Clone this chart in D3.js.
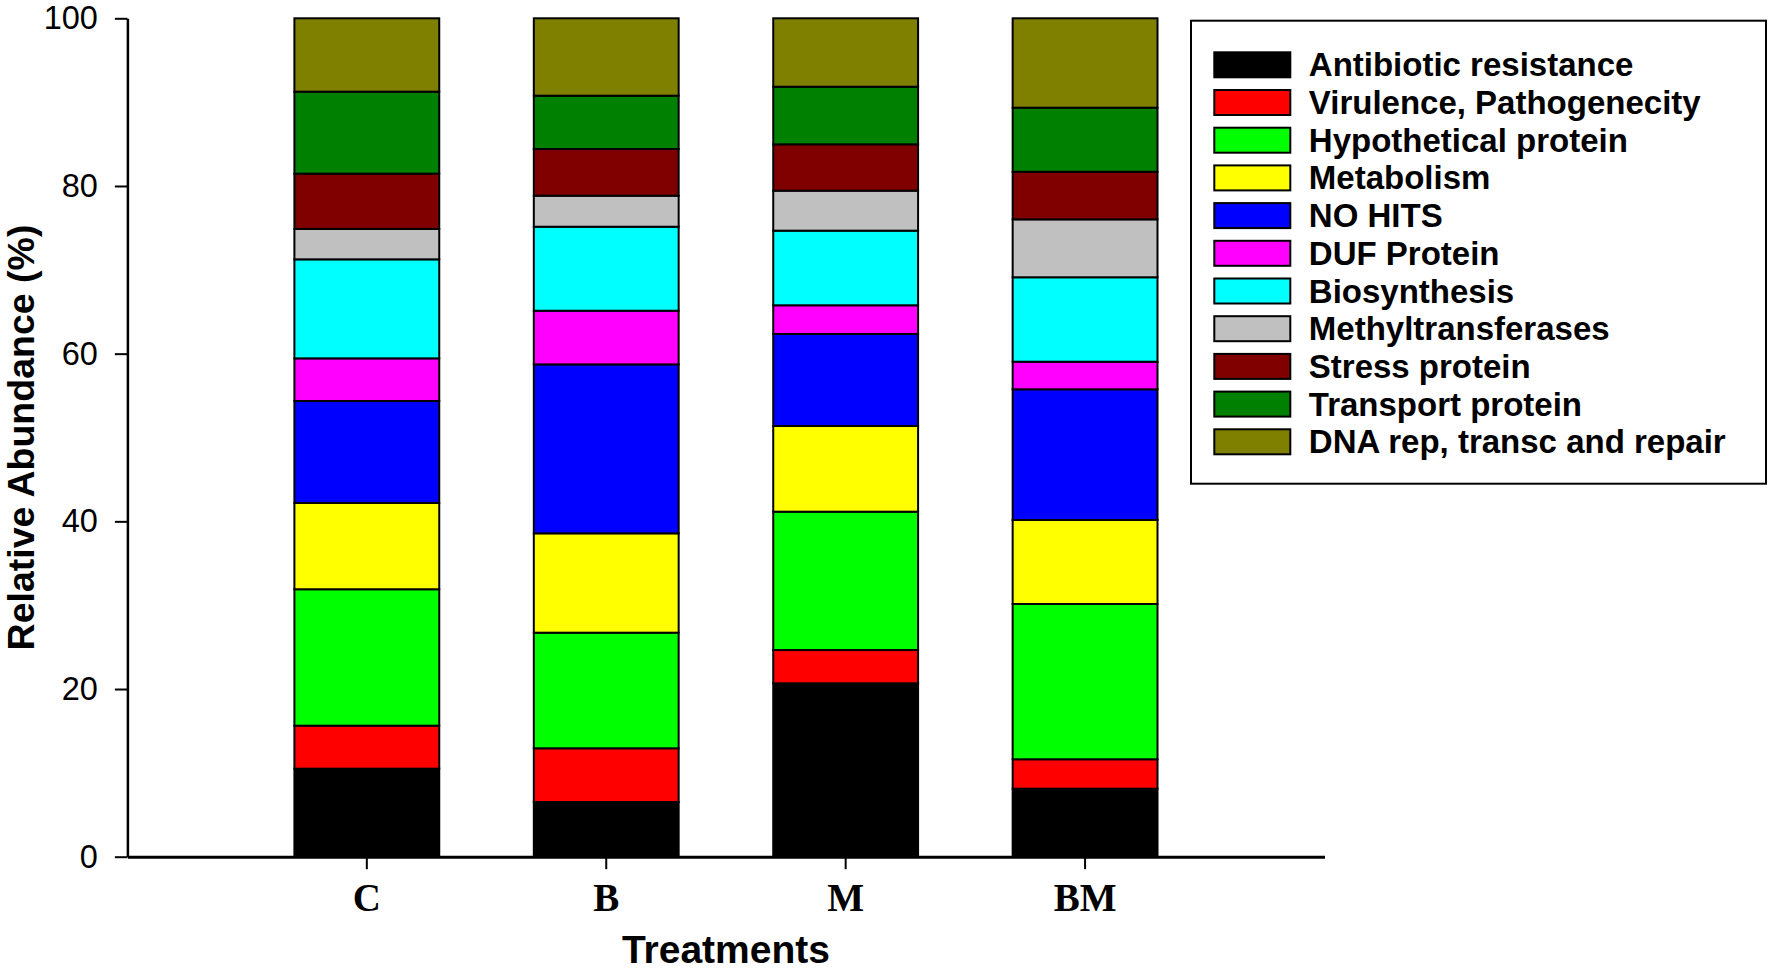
<!DOCTYPE html>
<html>
<head>
<meta charset="utf-8">
<script src="https://cdn.jsdelivr.net/npm/d3@7"></script>
<style>
  body { margin: 0; background: #fff; }
  svg { display: block; }
</style>
</head>
<body>
<div id="chart"></div>
<script>
// data (relative abundance, %)
var treatments = ["C", "B", "M", "BM"];
var categories = ["Antibiotic resistance", "Virulence, Pathogenecity", "Hypothetical protein",
    "Metabolism", "NO HITS", "DUF Protein", "Biosynthesis", "Methyltransferases",
    "Stress protein", "Transport protein", "DNA rep, transc and repair"];
var colors = ["#000000", "#ff0000", "#00ff00", "#ffff00", "#0000ff", "#ff00ff",
    "#00ffff", "#c0c0c0", "#800000", "#008000", "#808000"];

var antibiotic    = [10.50, 6.52, 20.68, 8.11];
var virulence     = [5.13, 6.41, 3.97, 3.51];
var hypothetical  = [16.27, 13.79, 16.50, 18.52];
var metabolism    = [10.30, 11.85, 10.22, 10.02];
var noHits        = [12.15, 20.15, 10.98, 15.59];
var dufProtein    = [5.09, 6.40, 3.42, 3.29];
var biosynthesis  = [11.81, 10.02, 8.90, 10.07];
var methyltrans   = [3.62, 3.70, 4.77, 6.91];
var stress        = [6.60, 5.57, 5.53, 5.68];
var transport     = [9.78, 6.36, 6.87, 7.64];
var dnaRep        = [8.75, 9.23, 8.16, 10.66];

var yTicks = [0, 20, 40, 60, 80, 100];

var seriesValues = [antibiotic, virulence, hypothetical, metabolism, noHits, dufProtein,
    biosynthesis, methyltrans, stress, transport, dnaRep];

// rows for d3.stack
var rows = treatments.map(function(t, i) {
    var row = {treatment: t};
    categories.forEach(function(c, j) { row[c] = seriesValues[j][i]; });
    return row;
});

var W = 1772, H = 974;
var margin = {top: 18.3, left: 127.4, right: 1772 - 1324.5, bottom: 974 - 856.7};
var width = W - margin.left - margin.right,
    height = H - margin.top - margin.bottom;

var svg = d3.select("#chart").append("svg")
    .attr("width", W)
    .attr("height", H);

var g = svg.append("g")
    .attr("transform", "translate(" + margin.left + "," + margin.top + ")");

var x = d3.scaleBand()
    .domain(treatments)
    .range([0, width])
    .paddingInner(0.395)
    .paddingOuter(0.6975);

var y = d3.scaleLinear()
    .domain([0, 100])
    .range([height, 0]);

var color = d3.scaleOrdinal().domain(categories).range(colors);

var stacked = d3.stack().keys(categories)(rows);

// bars
g.selectAll("g.layer")
    .data(stacked)
    .enter()
    .append("g")
        .attr("class", "layer")
        .style("fill", function(d) { return color(d.key); })
    .selectAll("rect")
    .data(function(d) { return d; })
    .enter()
    .append("rect")
        .attr("x", function(d) { return x(d.data.treatment); })
        .attr("y", function(d) { return y(d[1]); })
        .attr("width", x.bandwidth())
        .attr("height", function(d) { return y(d[0]) - y(d[1]); })
        .style("stroke", "#000")
        .style("stroke-width", 2);

// y axis
var yAxis = g.append("g")
    .call(d3.axisLeft(y).tickValues(yTicks).tickSize(12.5).tickPadding(17).tickSizeOuter(0));
yAxis.select(".domain").attr("stroke-width", 2.5);
yAxis.selectAll(".tick line").attr("stroke-width", 2);
yAxis.selectAll("text")
    .style("font-family", "'Liberation Sans', Arial, sans-serif")
    .style("font-size", "32.5px")
    .attr("fill", "#000");

// x axis
var xAxis = g.append("g")
    .attr("transform", "translate(0," + height + ")")
    .call(d3.axisBottom(x).tickSize(12.5).tickPadding(14).tickSizeOuter(0));
xAxis.select(".domain").attr("stroke-width", 3);
xAxis.selectAll(".tick line").attr("stroke-width", 2);
xAxis.selectAll("text")
    .style("font-family", "'Liberation Serif', 'Times New Roman', serif")
    .style("font-weight", "bold")
    .style("font-size", "39px")
    .attr("fill", "#000");

// axis titles
svg.append("text")
    .attr("transform", "translate(33.5," + (margin.top + height / 2) + ") rotate(-90)")
    .attr("text-anchor", "middle")
    .style("font-family", "'Liberation Sans', Arial, sans-serif")
    .style("font-weight", "bold")
    .style("font-size", "37.5px")
    .text("Relative Abundance (%)");

svg.append("text")
    .attr("x", margin.left + width / 2)
    .attr("y", 963)
    .attr("text-anchor", "middle")
    .style("font-family", "'Liberation Sans', Arial, sans-serif")
    .style("font-weight", "bold")
    .style("font-size", "39px")
    .text("Treatments");

// legend
var legend = svg.append("g");
legend.append("rect")
    .attr("x", 1191)
    .attr("y", 20.7)
    .attr("width", 575)
    .attr("height", 463)
    .style("fill", "#fff")
    .style("stroke", "#000")
    .style("stroke-width", 2);

var item = legend.selectAll("g.item")
    .data(categories)
    .enter()
    .append("g")
        .attr("class", "item")
        .attr("transform", function(d, i) { return "translate(1214.3," + (52.3 + i * 37.7) + ")"; });

item.append("rect")
    .attr("width", 76)
    .attr("height", 25)
    .style("fill", function(d) { return color(d); })
    .style("stroke", "#000")
    .style("stroke-width", 2);

item.append("text")
    .attr("x", 94.5)
    .attr("y", 24)
    .style("font-family", "'Liberation Sans', Arial, sans-serif")
    .style("font-weight", "bold")
    .style("font-size", "33px")
    .text(function(d) { return d; });
</script>
</body>
</html>
